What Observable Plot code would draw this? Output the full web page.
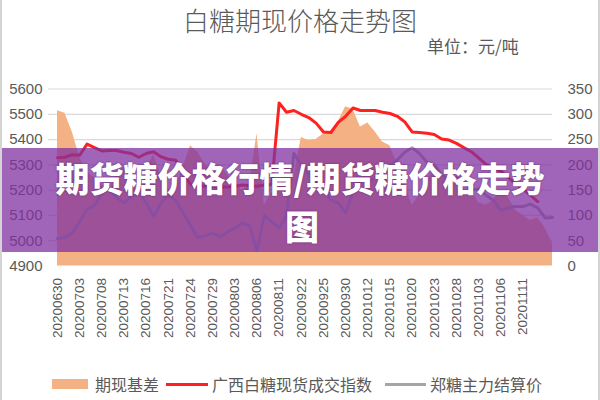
<!DOCTYPE html>
<html>
<head>
<meta charset="utf-8">
<script src="https://cdn.jsdelivr.net/npm/d3@7"></script>
<script src="https://cdn.jsdelivr.net/npm/@observablehq/plot@0.6"></script>
<style>
  html, body { margin: 0; padding: 0; background: #fff; }
  #wrap { position: relative; width: 600px; height: 400px; overflow: hidden; background: #fff;
          font-family: "Noto Sans CJK SC", "Liberation Sans", sans-serif; }
  #frame { position: absolute; left: 0; top: -2px; width: 596px; height: 402px; border-left: 2px solid #d4d4d4; border-right: 2px solid #d4d4d4; }
  #chart { position: absolute; left: 0; top: 0; }
  .title { position: absolute; left: 0; width: 600px; top: 4px; text-align: center; font-size: 26px; color: #5a5a5a; font-weight: 300; line-height: 32px; }
  .unit { position: absolute; left: 427px; top: 35px; font-size: 17px; color: #5a5a5a; line-height: 22px; }
  .legend { position: absolute; left: 0; top: 373px; width: 600px; height: 22px; font-size: 16px; color: #5a5a5a; }
  .legend span { position: absolute; top: 0; line-height: 22px; white-space: nowrap; }
  .sw { position: absolute; }
  .band { position: absolute; left: 0; top: 148px; width: 600px; height: 104px; background: rgba(128, 50, 160, 0.75); }
  .btext { position: absolute; left: 0; width: 600px; text-align: center; color: #fff; font-weight: 900; font-size: 34px;
           text-shadow: 0 0 2px rgba(60,0,60,0.6); line-height: 40px; height: 40px; white-space: nowrap; }
</style>
</head>
<body>
<div id="wrap">
  <div id="chart"></div>
  <div class="title">白糖期现价格走势图</div>
  <div class="unit">单位：元/吨</div>
  <div class="legend">
    <div class="sw" style="left:52px; top:6px; width:36px; height:10px; background:#f4b183;"></div>
    <span style="left:95px;">期现基差</span>
    <div class="sw" style="left:166px; top:10px; width:42px; height:3px; background:#ff2020;"></div>
    <span style="left:212px;">广西白糖现货成交指数</span>
    <div class="sw" style="left:385px; top:10px; width:41px; height:3px; background:#a5a5a5;"></div>
    <span style="left:430px;">郑糖主力结算价</span>
  </div>
  <div class="band"></div>
  <div class="btext" style="top:158px;">期货糖价格行情/期货糖价格走势</div>
  <div class="btext" style="top:206px; left:285px; width:30px;">图</div>
  <div id="frame"></div>
</div>
<script>
// Trading dates (category axis)
const dates = [
  "20200630","20200701","20200702","20200703","20200706","20200707","20200708","20200709","20200710","20200713",
  "20200714","20200715","20200716","20200717","20200720","20200721","20200722","20200723","20200724","20200727",
  "20200728","20200729","20200730","20200731","20200803","20200804","20200805","20200806","20200807","20200810",
  "20200811","20200918","20200921","20200922","20200923","20200924","20200925","20200928","20200929","20200930",
  "20201009","20201010","20201012","20201013","20201014","20201015","20201016","20201019","20201020","20201021",
  "20201022","20201023","20201026","20201027","20201028","20201029","20201102","20201103","20201104","20201105",
  "20201106","20201109","20201110","20201111","20201112","20201113","20201116","20201117"
];
// 广西白糖现货成交指数 (left axis)
const spot = [
  5328,5330,5340,5338,5382,5368,5355,5357,5357,5350,
  5345,5330,5345,5352,5332,5322,5318,5270,5222,5218,
  5215,5215,5212,5212,5215,5220,5218,5215,5220,5222,
  5545,5508,5515,5500,5487,5465,5430,5428,5468,5492,
  5525,5515,5515,5515,5508,5503,5492,5470,5430,5428,
  5425,5420,5402,5398,5385,5368,5352,5328,5302,5285,
  5275,5250,5225,5205,5180,5155,null,null
];
// 郑糖主力结算价 (left axis)
const futures = [
  5009,5013,5030,5075,5125,5140,5185,5205,5170,5150,
  5175,5190,5150,5095,5150,5180,5160,5110,5060,5012,
  5020,5030,5015,5035,5050,5070,5060,4960,5100,5075,
  5050,5100,5345,5300,5260,5230,5200,5160,5150,5110,
  5195,5240,5230,5250,5270,5300,5320,5350,5368,5345,
  5310,5300,5260,5240,5250,5230,5200,5205,5180,5160,
  5120,5130,5135,5135,5145,5130,5090,5092
];
// 期现基差 (right axis)
const basis = [
  307,302,265,215,185,175,160,150,180,195,
  170,140,190,220,180,150,155,195,238,225,
  200,190,200,180,165,150,160,262,120,145,
  150,200,175,254,248,250,261,265,285,315,
  310,275,283,265,245,238,200,160,120,140,
  170,190,175,170,160,150,150,125,120,130,
  150,135,110,100,90,95,75,45
];
const leftTicks = [4900,5000,5100,5200,5300,5400,5500,5600];
const rightTicks = [0,50,100,150,200,250,300,350];
const xTickIdx = d3.range(0, 64, 3);

const rows = dates.map((d, i) => ({i, date: d, spot: spot[i], futures: futures[i], basis: basis[i]}));
// right axis (0–350) shares the left scale: 4900 + v*2
const toLeft = v => 4900 + v * 2;

const chart = Plot.plot({
  width: 600,
  height: 400,
  marginTop: 88.5,
  marginBottom: 134.5,
  marginLeft: 57,
  marginRight: 48,
  style: {background: "transparent", color: "#595959", fontFamily: "Liberation Sans, Arial, sans-serif"},
  x: {type: "linear", domain: [0, dates.length - 1]},
  y: {domain: [4900, 5600]},
  marks: [
    Plot.gridY(leftTicks.slice(1), {stroke: "#d9d9d9", strokeOpacity: 1, strokeWidth: 1.2, x1: -1.2, x2: dates.length - 1}),
    Plot.areaY(rows, {x: "i", y1: () => 4900, y2: d => toLeft(d.basis), fill: "#f4b183", fillOpacity: 1}),
    Plot.lineY(rows, {x: "i", y: d => d.spot == null ? NaN : d.spot, stroke: "#ff2020", strokeWidth: 3}),
    Plot.lineY(rows, {x: "i", y: "futures", stroke: "#a5a5a5", strokeWidth: 3}),
    Plot.axisY(leftTicks, {anchor: "left", tickSize: 0, tickPadding: 15, fontSize: 15, label: null, tickFormat: d => String(d)}),
    Plot.axisY(rightTicks.map(toLeft), {anchor: "right", tickSize: 0, tickPadding: 15, fontSize: 15, label: null,
      tickFormat: d => String((d - 4900) / 2)}),
    Plot.axisX(xTickIdx, {anchor: "bottom", tickSize: 0, tickPadding: 12, tickRotate: -90, fontSize: 13.5, label: null,
      tickFormat: i => dates[i]})
  ]
});
document.getElementById("chart").appendChild(chart);
</script>
</body>
</html>
